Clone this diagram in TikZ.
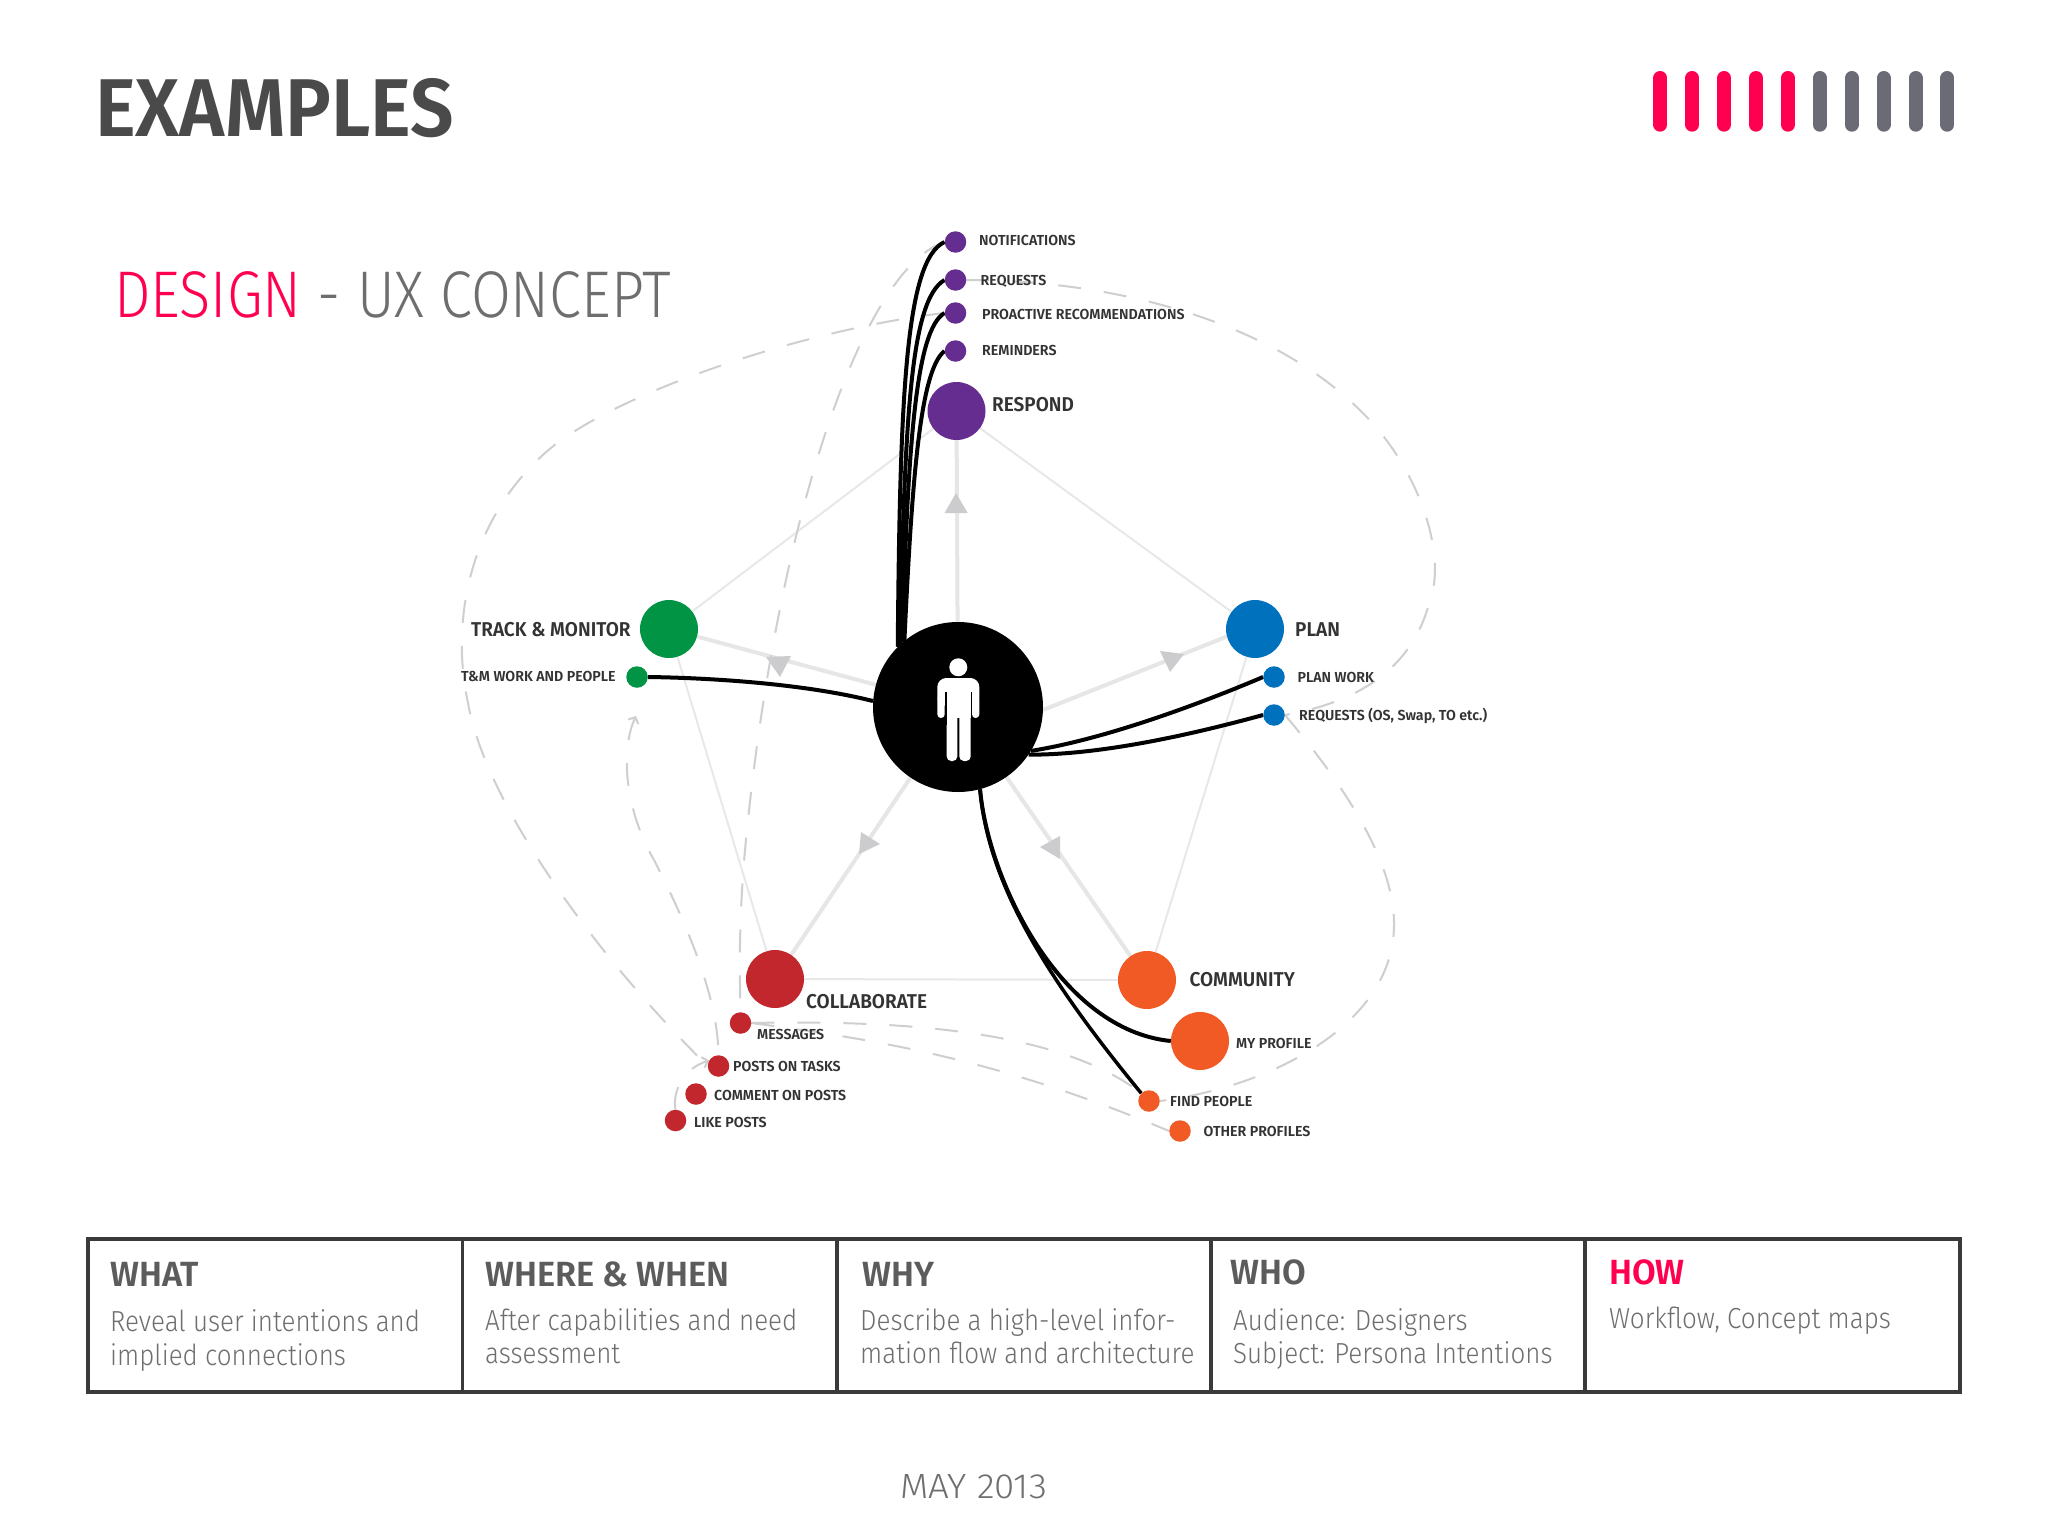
\documentclass[tikz,border=0pt]{standalone}
\usepackage{fontspec}
\usetikzlibrary{backgrounds,arrows.meta}
\newfontfamily\dinl{Fira Sans Light}[FakeStretch=.895]
\newfontfamily\dinls{Fira Sans Light}[FakeStretch=.875]
\newfontfamily\dinld{Fira Sans Light}[FakeStretch=1.05]
\newfontfamily\dinb{Fira Sans SemiBold}[FakeStretch=.98]
\newfontfamily\dinB{Fira Sans SemiBold}[FakeStretch=.95]
\newfontfamily\dint{Fira Sans SemiBold}[FakeStretch=.94]
\definecolor{pinkc}{HTML}{FF0050}
\definecolor{barg}{HTML}{6B6B75}
\definecolor{ink}{HTML}{333333}
\definecolor{heading}{HTML}{4A4A4A}
\definecolor{tabh}{HTML}{5C5C5C}
\definecolor{tabb}{HTML}{6E6E6E}
\definecolor{rule}{HTML}{3A3A3A}
\definecolor{purp}{HTML}{662D91}
\definecolor{grn}{HTML}{009444}
\definecolor{blu}{HTML}{0071BC}
\definecolor{redd}{HTML}{C1272D}
\definecolor{oran}{HTML}{F15A24}
\definecolor{thick}{HTML}{E6E6E6}
\definecolor{thin}{HTML}{E8E8E8}
\definecolor{tri}{HTML}{CCCCCF}
\definecolor{dashc}{HTML}{CFCFCF}
\tikzset{
  x=1pt,y=-1pt,
  dot/.style={circle,inner sep=0pt,minimum size=#1,draw=none},
  lab/.style={anchor=west,inner sep=0pt,text=ink,font=\dinb\fontsize{#1}{#1}\selectfont,text height=0.69*#1 pt,text depth=0pt},
  biglab/.style={lab=20,font=\dinB\fontsize{20}{20}\selectfont},
  tabhead/.style={anchor=base west,inner sep=0pt,text=tabh,font=\dinb\fontsize{35}{35}\selectfont},
  tabbody/.style={anchor=base west,inner sep=0pt,text=tabb,font=\dinl\fontsize{29}{29}\selectfont},
  spoke/.style={draw=thick,line width=4pt},
  rim/.style={draw=thin,line width=2pt},
  flow/.style={draw=black,line width=4pt},
  dashcurve/.style={draw=dashc,line width=2pt,dash pattern=on 23pt off 23pt},
  prog/.style={line width=14pt,line cap=round},
  rulec/.style={draw=rule,line width=3.5pt},
}
\begin{document}
\begin{tikzpicture}
\useasboundingbox (0,0) rectangle (2048,1536);
% titles
\node[anchor=base west,inner sep=0pt,text=heading,font=\dint\fontsize{82}{82}\selectfont] (title) at (95,137) {EXAMPLES};
\node[anchor=base west,inner sep=0pt,text=tabb,font=\dinls\fontsize{66}{66}\selectfont] (subtitle) at (114,317) {\textcolor{pinkc}{DESIGN} - UX CONCEPT};
% progress bars
\foreach \i/\c in {0/pinkc,1/pinkc,2/pinkc,3/pinkc,4/pinkc,5/barg,6/barg,7/barg,8/barg,9/barg}
  \draw[prog,\c] ({1660.3+\i*31.9},78) -- ({1660.3+\i*31.9},124.7);
% main nodes
\node[dot=170pt,fill=black] (hub) at (958,707) {};
\node[dot=58pt,fill=purp] (respond) at (956.5,411) {};
\node[dot=58pt,fill=grn] (track) at (669,629) {};
\node[dot=58pt,fill=blu] (plan) at (1255,629) {};
\node[dot=58pt,fill=redd] (collab) at (775,979) {};
\node[dot=58pt,fill=oran] (community) at (1147,980) {};
% leaf nodes
\node[dot=21.5pt,fill=purp] (n1) at (955.5,242) {};
\node[dot=21.5pt,fill=purp] (n2) at (955.5,280) {};
\node[dot=21.5pt,fill=purp] (n3) at (955.5,313) {};
\node[dot=21.5pt,fill=purp] (n4) at (955.5,351) {};
\node[dot=21.5pt,fill=grn] (tm) at (637,677) {};
\node[dot=21.5pt,fill=blu] (pw) at (1274,677) {};
\node[dot=21.5pt,fill=blu] (ros) at (1274,715) {};
\node[dot=21.5pt,fill=redd] (msg) at (740.5,1023) {};
\node[dot=21.5pt,fill=redd] (posts) at (718.5,1066) {};
\node[dot=21.5pt,fill=redd] (comment) at (696,1094) {};
\node[dot=21.5pt,fill=redd] (like) at (675.5,1120.5) {};
\node[dot=58pt,fill=oran] (myprofile) at (1200,1041) {};
\node[dot=21.5pt,fill=oran] (find) at (1149,1101) {};
\node[dot=21.5pt,fill=oran] (other) at (1180,1131) {};
\coordinate (tmtip) at (636,716);
% labels
\node[lab=14.5] (l1) at (979,240) {NOTIFICATIONS};
\node[lab=14.5] (l2) at (980.5,280) {REQUESTS};
\node[lab=14.5] (l3) at (982,314.5) {PROACTIVE RECOMMENDATIONS};
\node[lab=14.5] (l4) at (982,350.5) {REMINDERS};
\node[biglab] (l5) at (992,404.5) {RESPOND};
\node[biglab] (l6) at (471,630) {TRACK \& MONITOR};
\node[biglab] (l7) at (1295,630) {PLAN};
\node[lab=14.5] (l8) at (461,676) {T\&M WORK AND PEOPLE};
\node[lab=14.5] (l9) at (1297.5,677) {PLAN WORK};
\node[lab=14.5] (l10) at (1299,715.5) {REQUESTS (OS, Swap, TO etc.)};
\node[biglab] (l11) at (806,1002) {COLLABORATE};
\node[biglab] (l12) at (1189.5,980) {COMMUNITY};
\node[lab=14.5] (l13) at (757,1034) {MESSAGES};
\node[lab=14.5] (l14) at (733,1066) {POSTS ON TASKS};
\node[lab=14.5] (l15) at (714,1095) {COMMENT ON POSTS};
\node[lab=14.5] (l16) at (694,1122) {LIKE POSTS};
\node[lab=14.5] (l17) at (1236,1043) {MY PROFILE};
\node[lab=14.5] (l18) at (1170,1101) {FIND PEOPLE};
\node[lab=14.5] (l19) at (1203.5,1131) {OTHER PROFILES};
% person icon
\fill[white] (958.3,667.3) circle (9);
\fill[white,rounded corners=9pt] (937.3,706) -- (937.3,678) -- (979.3,678) -- (979.3,706) -- cycle;
\fill[white,rounded corners=3.6pt] (937.3,695) -- (937.3,718) -- (944.7,718) -- (944.7,695) -- cycle;
\fill[white,rounded corners=3.6pt] (972,695) -- (972,718) -- (979.3,718) -- (979.3,695) -- cycle;
\fill[white,rounded corners=4.5pt] (946.7,700) -- (946.7,761) -- (957.3,761) -- (957.3,700) -- cycle;
\fill[white,rounded corners=4.5pt] (959.3,700) -- (959.3,761) -- (970.7,761) -- (970.7,700) -- cycle;
\fill[white] (946.7,690) rectangle (970.7,718);
\fill[black] (944.7,691.7) rectangle (946.7,725);
\fill[black] (970.7,691.7) rectangle (972,725);
% connectors
\begin{pgfonlayer}{background}
\fill[white] (0,0) rectangle (2048,1536);
\draw[rim] (respond) -- (track);
\draw[rim] (respond) -- (plan);
\draw[rim] (plan) -- (community);
\draw[rim] (community) -- (collab);
\draw[rim] (collab) -- (track);
\draw[spoke] (hub) -- (respond);
\draw[spoke] (hub.-2) -- (plan.195);
\draw[spoke] (hub) -- (track);
\draw[spoke] (hub) -- (collab);
\draw[spoke] (hub) -- (community);
\fill[tri] (956,493) -- (967.7,513) -- (944.5,513) -- cycle;
\fill[tri] (1160,651) -- (1184,654) -- (1170,672) -- cycle;
\fill[tri] (766,657) -- (791,656) -- (780,677) -- cycle;
\fill[tri] (861,832) -- (880,844) -- (859,854) -- cycle;
\fill[tri] (1060,836) -- (1040,847) -- (1060,859) -- cycle;
% dashed
\draw[dashcurve] (n2.east) .. controls (1130,280) and (1300,330) .. (1384,437)
   .. controls (1425,490) and (1445,560) .. (1430,600)
   .. controls (1415,660) and (1370,700) .. (ros.east);
\draw[dashcurve] (ros.east) .. controls (1340,780) and (1395,860) .. (1394,925)
   .. controls (1394,1020) and (1280,1085) .. (find.east);
\draw[dashcurve] (n3.west) .. controls (800,330) and (610,395) .. (545,453)
   .. controls (470,520) and (450,620) .. (468,703)
   .. controls (485,800) and (590,950) .. (posts.west);
\draw[dashcurve] (n1.west) .. controls (860,270) and (775,530) .. (745,850) .. controls (738,930) and (740,980) .. (msg.north);
\draw[dashcurve,{Straight Barb[length=5pt,width=11pt]}-] (tmtip) .. controls (620,750) and (625,810) .. (654,860) .. controls (690,930) and (718,1000) .. (posts.north);
\draw[dashcurve,-{Straight Barb[length=5pt,width=11pt]}] (like.north) .. controls (672,1090) and (685,1068) .. (posts.150);
\draw[dashcurve] (msg.east) .. controls (900,1020) and (1060,1030) .. (find.north west);
\draw[dashcurve] (msg.east) .. controls (880,1040) and (1000,1060) .. (other.west);
% black flows
\draw[flow] (hub.135) .. controls (900,400) and (905,260) .. (n1.west);
\draw[flow] (hub.133) .. controls (905,420) and (910,300) .. (n2.west);
\draw[flow] (hub.131) .. controls (908,450) and (915,330) .. (n3.west);
\draw[flow] (hub.129) .. controls (912,480) and (920,370) .. (n4.west);
\draw[flow] (hub.176) .. controls (810,685) and (720,678) .. (tm.east);
\draw[flow] (hub.-31) .. controls (1100,740) and (1190,708) .. (pw.west);
\draw[flow] (hub.-34) .. controls (1100,755) and (1190,735) .. (ros.west);
\draw[flow] (hub.-75) .. controls (988,880) and (1060,1030) .. (myprofile.west);
\draw[flow,line width=3.5pt] (hub.-75) .. controls (988,880) and (1040,970) .. (find.north west);
\end{pgfonlayer}
% table
\coordinate (t0) at (88,1239);
\coordinate (t1) at (1960,1392);
\draw[rulec,line width=4.5pt] (t0) rectangle (t1);
\coordinate (s1a) at (462.5,1239); \coordinate (s1b) at (462.5,1392);
\coordinate (s2a) at (837,1239); \coordinate (s2b) at (837,1392);
\coordinate (s3a) at (1211,1239); \coordinate (s3b) at (1211,1392);
\coordinate (s4a) at (1585,1239); \coordinate (s4b) at (1585,1392);
\draw[rulec] (s1a) -- (s1b);
\draw[rulec] (s2a) -- (s2b);
\draw[rulec,line width=4.5pt] (s3a) -- (s3b);
\draw[rulec] (s4a) -- (s4b);
\node[tabhead] (h1) at (110,1286) {WHAT};
\node[tabbody] (b1a) at (110,1331) {Reveal user intentions and};
\node[tabbody] (b1b) at (110,1365) {implied connections};
\node[tabhead] (h2) at (485,1286) {WHERE \& WHEN};
\node[tabbody] (b2a) at (485,1330) {After capabilities and need};
\node[tabbody] (b2b) at (485,1363) {assessment};
\node[tabhead] (h3) at (862,1286) {WHY};
\node[tabbody] (b3a) at (860,1330) {Describe a high-level infor-};
\node[tabbody] (b3b) at (860,1363) {mation flow and architecture};
\node[tabhead] (h4) at (1230,1284) {WHO};
\node[tabbody] (b4a) at (1233,1330) {Audience: Designers};
\node[tabbody] (b4b) at (1233,1363) {Subject: Persona Intentions};
\node[tabhead,text=pinkc] (h5) at (1609,1284) {HOW};
\node[tabbody] (b5a) at (1609,1328) {Workflow, Concept maps};
\node[anchor=base west,inner sep=0pt,text=tabb,font=\dinld\fontsize{35}{35}\selectfont] (date) at (900,1498) {MAY 2013};
\end{tikzpicture}
\end{document}
